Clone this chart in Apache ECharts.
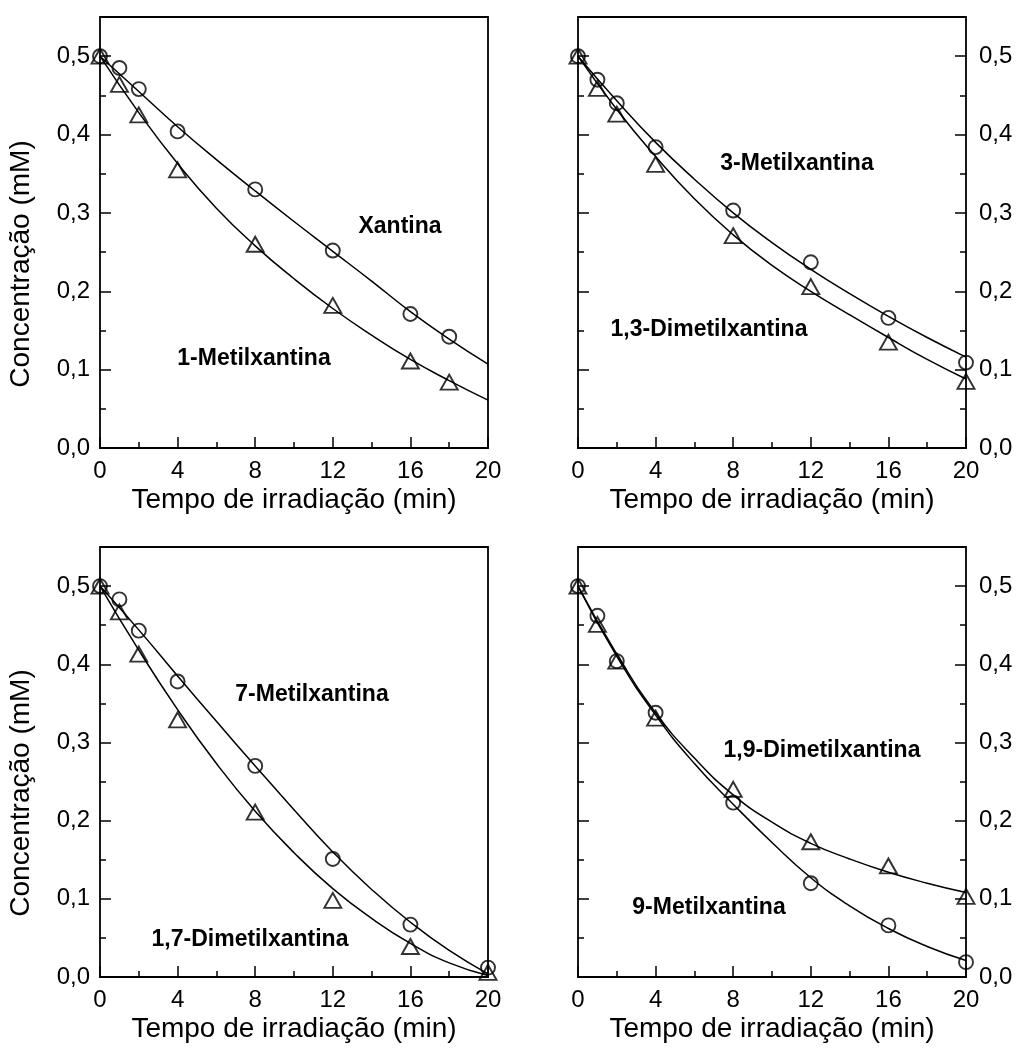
<!DOCTYPE html>
<html>
<head>
<meta charset="utf-8">
<script src="https://cdn.jsdelivr.net/npm/echarts@6/dist/echarts.min.js"></script>
<style>
  html, body { margin: 0; background: #fff; }
  #chart { width: 1018px; height: 1052px; }
</style>
</head>
<body>
<div id="chart"></div>
<script>
// tempos de irradiação medidos (min)
const tempoA = [0, 1, 2, 4, 8, 12, 16, 18]
const tempoB = [0, 1, 2, 4, 8, 12, 16, 20]
// tempos das curvas ajustadas
const tempoCurva = [0, 2, 4, 6, 8, 10, 12, 14, 16, 18, 20]

// concentração (mM) - pontos
const xantina = [0.500, 0.485, 0.458, 0.404, 0.330, 0.252, 0.171, 0.142]
const metil1 = [0.500, 0.464, 0.425, 0.355, 0.260, 0.182, 0.111, 0.084]
const metil3 = [0.500, 0.470, 0.440, 0.384, 0.303, 0.237, 0.166, 0.109]
const dimetil13 = [0.500, 0.459, 0.426, 0.362, 0.271, 0.206, 0.135, 0.085]
const metil7 = [0.500, 0.483, 0.443, 0.378, 0.270, 0.151, 0.067, 0.012]
const dimetil17 = [0.500, 0.467, 0.413, 0.329, 0.211, 0.098, 0.039, 0.006]
const metil9 = [0.500, 0.462, 0.404, 0.338, 0.223, 0.120, 0.066, 0.019]
const dimetil19 = [0.500, 0.451, 0.404, 0.331, 0.240, 0.173, 0.142, 0.103]

// concentração (mM) - curvas ajustadas
const xantinaCurva = [0.500, 0.455, 0.410, 0.368, 0.328, 0.289, 0.251, 0.213, 0.174, 0.139, 0.107]
const metil1Curva = [0.500, 0.428, 0.363, 0.306, 0.258, 0.216, 0.178, 0.144, 0.113, 0.086, 0.061]
const metil3Curva = [0.500, 0.443, 0.390, 0.343, 0.300, 0.262, 0.228, 0.197, 0.168, 0.141, 0.116]
const dimetil13Curva = [0.500, 0.432, 0.372, 0.318, 0.272, 0.233, 0.200, 0.170, 0.141, 0.113, 0.088]
const metil7Curva = [0.500, 0.444, 0.385, 0.327, 0.270, 0.214, 0.160, 0.112, 0.070, 0.034, 0.004]
const dimetil17Curva = [0.500, 0.418, 0.342, 0.273, 0.212, 0.159, 0.113, 0.075, 0.043, 0.018, 0.002]
const metil9Curva = [0.500, 0.410, 0.335, 0.273, 0.221, 0.172, 0.127, 0.091, 0.062, 0.039, 0.021]
const dimetil19Curva = [0.500, 0.413, 0.338, 0.280, 0.233, 0.198, 0.171, 0.151, 0.134, 0.120, 0.108]

const FONTE = '"Liberation Sans", Arial, sans-serif'
const nomeX = 'Tempo de irradiação (min)'
const nomeY = 'Concentração (mM)'

// layout de cada painel: [left, top, width, height]
const paineis = [
  { rect: [100, 17, 388, 431], lado: 'left', tempo: tempoA,
    circ: xantina, circCurva: xantinaCurva, tri: metil1, triCurva: metil1Curva,
    rotulos: [['Xantina', 400, 227], ['1-Metilxantina', 254, 359]] },
  { rect: [578, 17, 388, 431], lado: 'right', tempo: tempoB,
    circ: metil3, circCurva: metil3Curva, tri: dimetil13, triCurva: dimetil13Curva,
    rotulos: [['3-Metilxantina', 797, 164], ['1,3-Dimetilxantina', 709, 330]] },
  { rect: [100, 547, 388, 430], lado: 'left', tempo: tempoB,
    circ: metil7, circCurva: metil7Curva, tri: dimetil17, triCurva: dimetil17Curva,
    rotulos: [['7-Metilxantina', 312, 695], ['1,7-Dimetilxantina', 250, 940]] },
  { rect: [578, 547, 388, 430], lado: 'right', tempo: tempoB,
    circ: metil9, circCurva: metil9Curva, tri: dimetil19, triCurva: dimetil19Curva,
    rotulos: [['1,9-Dimetilxantina', 822, 751], ['9-Metilxantina', 709, 908]] }
]

function eixoX(gridIndex, principal) {
  return {
    type: 'value', gridIndex, min: 0, max: 20, interval: principal ? 4 : 2,
    position: 'bottom',
    axisLine: { show: principal, onZero: false, lineStyle: { color: '#000', width: 1.8 } },
    axisTick: { show: true, inside: true, length: principal ? 11 : 6, lineStyle: { color: '#000', width: 1.5 } },
    axisLabel: { show: principal, margin: 11, color: '#000', fontSize: 24, fontFamily: FONTE },
    splitLine: { show: false },
    name: principal ? nomeX : '',
    nameLocation: 'middle', nameGap: 38,
    nameTextStyle: { color: '#000', fontSize: 28, fontFamily: FONTE }
  }
}

function eixoY(gridIndex, posicao, principal, comRotulo) {
  return {
    type: 'value', gridIndex, min: 0, max: 0.55, interval: principal ? 0.1 : 0.05,
    position: posicao,
    axisLine: { show: false, onZero: false },
    axisTick: { show: true, inside: true, length: principal ? 11 : 6, lineStyle: { color: '#000', width: 1.5 } },
    axisLabel: {
      show: comRotulo, showMaxLabel: false, margin: posicao === 'left' ? 10 : 13,
      color: '#000', fontSize: 24, fontFamily: FONTE,
      formatter: (v) => v.toFixed(1).replace('.', ',')
    },
    splitLine: { show: false }
  }
}

const grid = []
const xAxis = []
const yAxis = []
const series = []
const graphic = []

paineis.forEach((p, i) => {
  grid.push({
    left: p.rect[0], top: p.rect[1], width: p.rect[2], height: p.rect[3],
    show: true, borderColor: '#000', borderWidth: 1.8, outerBoundsMode: 'none'
  })
  const xi = xAxis.length
  xAxis.push(eixoX(i, true), eixoX(i, false))
  const yi = yAxis.length
  yAxis.push(eixoY(i, p.lado, true, true), eixoY(i, p.lado, false, false))
  if (p.lado === 'right') {
    // ticks também na borda esquerda
    yAxis.push(eixoY(i, 'left', true, false), eixoY(i, 'left', false, false))
  }

  const linha = (vals) => ({
    type: 'line', xAxisIndex: xi, yAxisIndex: yi, smooth: true, symbol: 'none', clip: false,
    lineStyle: { color: '#000', width: 1.5 }, silent: true,
    data: tempoCurva.map((t, k) => [t, vals[k]])
  })
  const pontos = (vals, simbolo, tamanho) => ({
    type: 'scatter', xAxisIndex: xi, yAxisIndex: yi, symbol: simbolo, symbolSize: tamanho, clip: false,
    itemStyle: { color: 'rgba(0,0,0,0)', borderColor: '#000', borderWidth: 1.9 },
    data: p.tempo.map((t, k) => [t, vals[k]])
  })
  series.push(linha(p.circCurva), linha(p.triCurva))
  series.push(pontos(p.circ, 'circle', 14), pontos(p.tri, 'triangle', [17, 15]))

  p.rotulos.forEach(([txt, x, y]) => {
    graphic.push({
      type: 'text', x, y,
      style: {
        text: txt, font: 'bold 23px ' + FONTE, fill: '#000',
        align: 'center', verticalAlign: 'middle', textAlign: 'center', textVerticalAlign: 'middle'
      }
    })
  })
})

// nome do eixo y nos painéis da esquerda
;[264, 793].forEach((y) => {
  graphic.push({
    type: 'text', x: 21, y, rotation: Math.PI / 2,
    style: {
      text: nomeY, font: '28px ' + FONTE, fill: '#000',
      align: 'center', verticalAlign: 'middle', textAlign: 'center', textVerticalAlign: 'middle'
    }
  })
})

const chart = echarts.init(document.getElementById('chart'))
chart.setOption({
  animation: false,
  backgroundColor: '#fff',
  grid, xAxis, yAxis, series, graphic
})
</script>
</body>
</html>
